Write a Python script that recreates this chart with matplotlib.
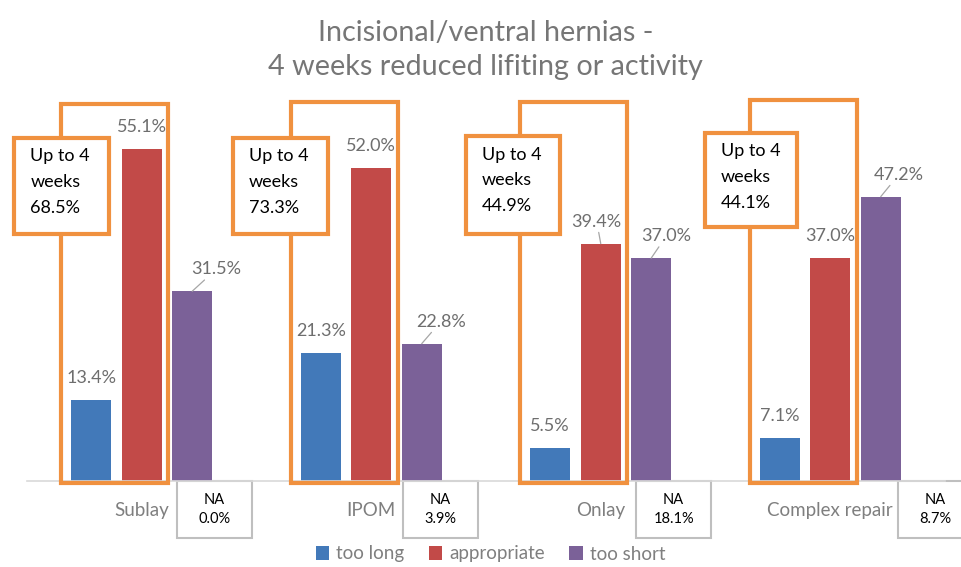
import matplotlib.pyplot as plt
import numpy as np
from matplotlib.patches import Rectangle

plt.rcParams['font.family'] = ['Lato', 'DejaVu Sans']

# data
categories = ['Sublay', 'IPOM', 'Onlay', 'Complex repair']
too_long = [13.4, 21.3, 5.5, 7.1]
appropriate = [55.1, 52.0, 39.4, 37.0]
too_short = [31.5, 22.8, 37.0, 47.2]
up_to_4 = ['68.5%', '73.3%', '44.9%', '44.1%']
na_vals = ['0.0%', '3.9%', '18.1%', '8.7%']

series = [('too long', too_long, '#4279B9'),
          ('appropriate', appropriate, '#C24A48'),
          ('too short', too_short, '#7B6198')]

# label offsets (pixels) per series / group
lab_dx = [[0, 0, 0, 0], [0, 0, -4, 0], [24, 19, 15, 18]]
lab_dy = 22

# callout box layout (relative to group centre, data units)
box_x = [(-0.556, -0.143), (-0.604, -0.19), (-0.587, -0.178), (-0.546, -0.145)]
box_y = [(41.0, 56.9), (41.0, 56.9), (41.0, 57.2), (42.2, 57.8)]
tall_top = [62.6, 62.9, 62.9, 63.2]
na_x = [0.154, 0.138, 0.154, 0.295]

orange = '#F0913F'

fig = plt.figure(figsize=(9.62, 5.67), dpi=100, facecolor='white')
ax = fig.add_axes([27 / 962, 86 / 567, 918 / 962, 391 / 567])

x = np.arange(len(categories))
w = 0.174
step = 0.22
handles = []
for k, (name, vals, col) in enumerate(series):
    pos = x + (k - 1) * step
    b = ax.bar(pos, vals, width=w, color=col, label=name, zorder=2)
    handles.append(b)
    for i, v in enumerate(vals):
        dx = lab_dx[k][i]
        arrow = dict(arrowstyle='-', color='#A6A6A6', lw=0.9, shrinkA=0, shrinkB=0) if dx != 0 else None
        ax.annotate(f'{v:.1f}%', xy=(pos[i], v), xytext=(dx, lab_dy),
                    textcoords='offset pixels', ha='center', va='center',
                    fontsize=13, color='#6E6E6E', arrowprops=arrow, zorder=5)

for i in range(len(categories)):
    # tall orange frame around too long + appropriate
    ax.add_patch(Rectangle((i - 0.35, -0.35), 0.465, tall_top[i] + 0.35,
                           fill=False, ec=orange, lw=3, zorder=3, clip_on=False))
    # callout box
    x0, x1 = box_x[i]
    y0, y1 = box_y[i]
    ax.add_patch(Rectangle((i + x0, y0), x1 - x0, y1 - y0, fc='white',
                           ec=orange, lw=3, zorder=4, clip_on=False))
    ax.text(i + x0 + 0.07, y1 - 1.7, 'Up to 4\nweeks\n' + up_to_4[i],
            ha='left', va='top', fontsize=13, color='black',
            linespacing=1.75, zorder=6)
    # NA box
    ax.add_patch(Rectangle((i + na_x[i], -9.4), 0.327, 9.4, fc='white',
                           ec='#BFBFBF', lw=1.5, zorder=1, clip_on=False))
    ax.text(i + na_x[i] + 0.1635, -3.2, 'NA', ha='center', va='center',
            fontsize=10.5, color='black', clip_on=False)
    ax.text(i + na_x[i] + 0.1635, -6.3, na_vals[i], ha='center', va='center',
            fontsize=10.5, color='black', clip_on=False)

ax.set_xlim(-0.5, len(categories) - 0.5)
ax.set_ylim(0, 64.9)
ax.set_xticks(x)
ax.set_xticklabels(categories, fontsize=13.5, color='#7F7F7F')
ax.tick_params(axis='x', length=0, pad=15)
ax.set_yticks([])
for s in ['top', 'left', 'right']:
    ax.spines[s].set_visible(False)
ax.spines['bottom'].set_color('#D9D9D9')
ax.spines['bottom'].set_linewidth(1.2)

fig.text(0.505, 1 - 33 / 567, 'Incisional/ventral hernias -', ha='center', va='center',
         fontsize=20.7, color='#767676')
fig.text(0.505, 1 - 67 / 567, '4 weeks reduced lifiting or activity', ha='center', va='center',
         fontsize=20.7, color='#767676')

leg = fig.legend(handles=handles, loc='center', bbox_to_anchor=(0.51, 1 - 554 / 567),
                 ncol=3, frameon=False, fontsize=13.5, handlelength=0.7, handleheight=0.7,
                 handletextpad=0.4, columnspacing=1.3)
for t in leg.get_texts():
    t.set_color('#7F7F7F')

fig.savefig('out.png', dpi=100, facecolor='white')
